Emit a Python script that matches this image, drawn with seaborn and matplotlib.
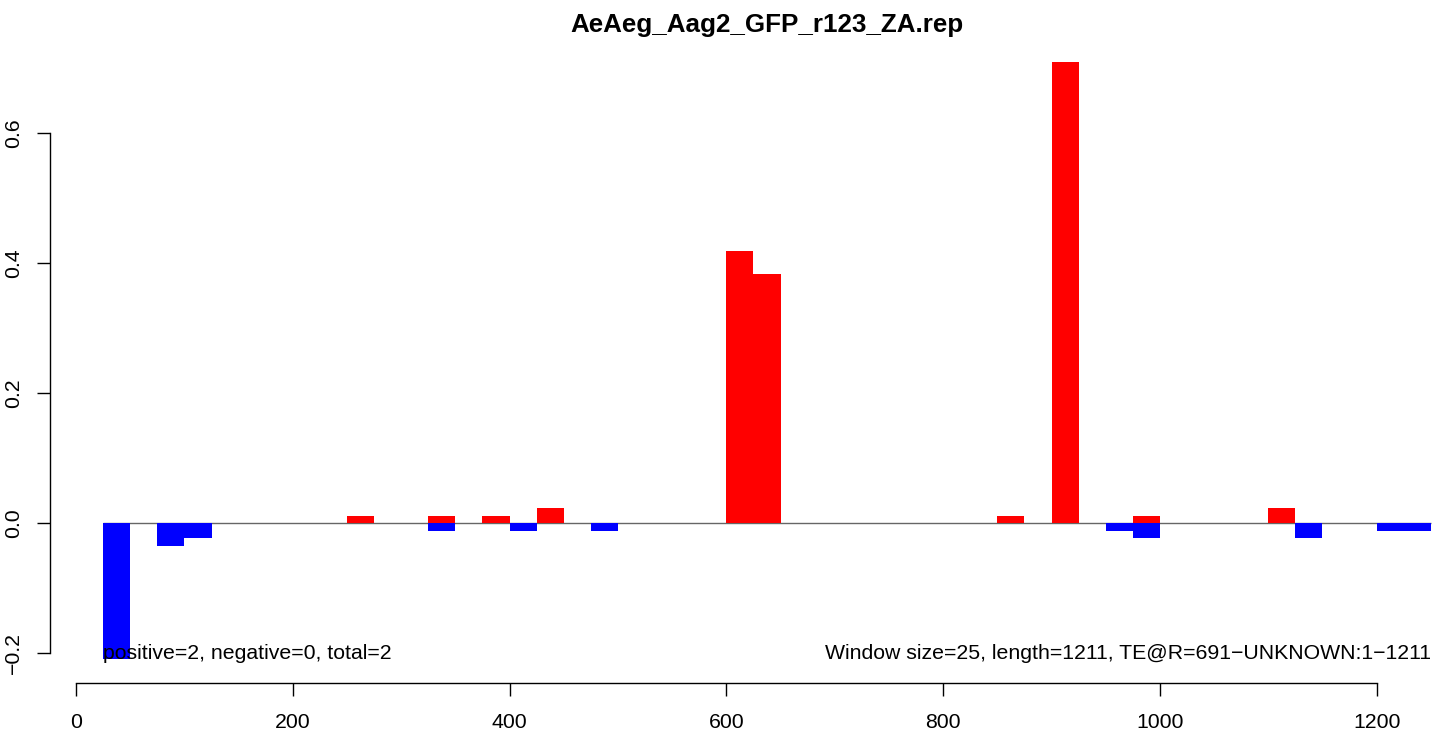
import numpy as np
import pandas as pd
import matplotlib
matplotlib.use("Agg")
import matplotlib.pyplot as plt
import seaborn as sns

# window start positions (window size 25) and their scores
pos_start = [250, 325, 375, 425, 600, 625, 850, 900, 975, 1100]
pos_value = [0.0116, 0.0116, 0.0116, 0.0233, 0.4186, 0.3837, 0.0116, 0.7093, 0.0116, 0.0233]

neg_start = [25, 75, 100, 325, 400, 475, 950, 975, 1125, 1200, 1225]
neg_value = [-0.2093, -0.0349, -0.0233, -0.0116, -0.0116, -0.0116, -0.0116, -0.0233, -0.0233, -0.0116, -0.0116]

window = 25
title = "AeAeg_Aag2_GFP_r123_ZA.rep"
left_note = "positive=2, negative=0, total=2"
right_note = "Window size=25, length=1211, TE@R=691\u2212UNKNOWN:1\u22121211"

x_ticks = [0, 200, 400, 600, 800, 1000, 1200]
y_ticks = [-0.2, 0.0, 0.2, 0.4, 0.6]

plt.rcParams['font.family'] = ['Liberation Sans', 'DejaVu Sans']

pos = pd.DataFrame({"x": np.array(pos_start) + window / 2, "y": pos_value})
neg = pd.DataFrame({"x": np.array(neg_start) + window / 2, "y": neg_value})

fig = plt.figure(figsize=(14.39, 7.34), dpi=100)
W, H = 1439, 734
# plot region in pixels: x 50..1484 (runs off the right edge), y 38..683
ax = fig.add_axes([50 / W, 1 - 683 / H, 1434 / W, 645 / H])

# baseline
ax.hlines(0, 25, 1250, color="#666666", lw=1.0, zorder=1)

sns.barplot(data=pos, x="x", y="y", native_scale=True, color="#FF0000", saturation=1,
            width=1, linewidth=0, errorbar=None, ax=ax, zorder=2)
sns.barplot(data=neg, x="x", y="y", native_scale=True, color="#0000FF", saturation=1,
            width=1, linewidth=0, errorbar=None, ax=ax, zorder=2)

ax.set_xlim(-24, 1299)
ax.set_ylim(-0.246, 0.746)

ax.set_xticks(x_ticks)
ax.set_xticklabels([str(t) for t in x_ticks])
ax.set_yticks(y_ticks)
ax.set_yticklabels([f"{t:.1f}".replace("-", "\u2212") for t in y_ticks],
                   rotation=90, va="center")
ax.set_xlabel("")
ax.set_ylabel("")

for s in ["top", "right"]:
    ax.spines[s].set_visible(False)
ax.spines["left"].set_bounds(-0.2, 0.6)
ax.spines["bottom"].set_bounds(0, 1200)
for s in ["left", "bottom"]:
    ax.spines[s].set_linewidth(1.0)

ax.tick_params(axis="both", length=9.4, width=1.0, labelsize=15.3, color="black")
ax.tick_params(axis="x", pad=12)
ax.tick_params(axis="y", pad=10)

ax.set_title(title, fontsize=18.7, fontweight="bold", pad=4.3)

ax.text(25, -0.2, left_note, ha="left", va="center", fontsize=15.3)
ax.text(1250, -0.2, right_note, ha="right", va="center", fontsize=15.3)

ax.grid(False)
fig.savefig("out.png", dpi=100)
